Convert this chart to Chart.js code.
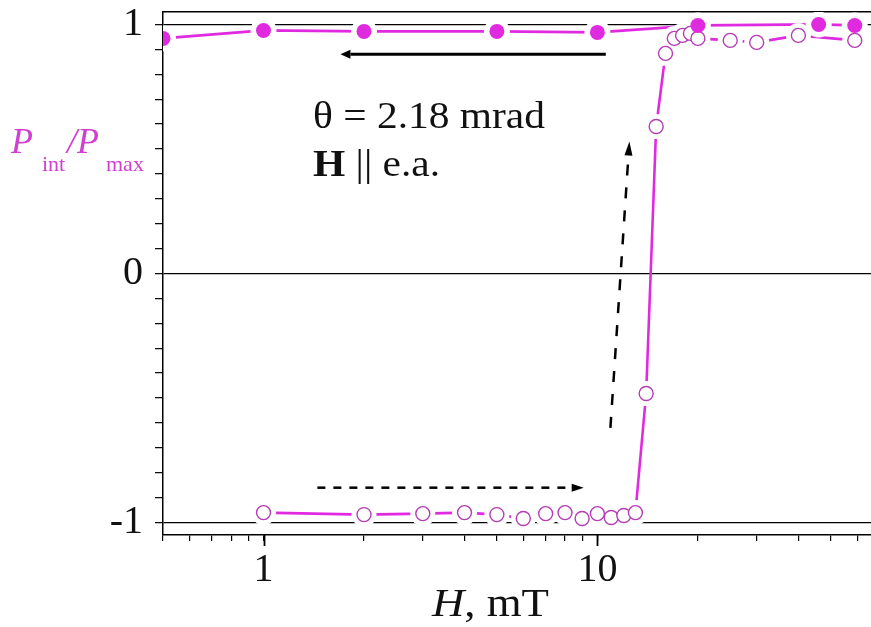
<!DOCTYPE html>
<html><head><meta charset="utf-8">
<script src="https://cdn.jsdelivr.net/npm/chart.js@4.4.1/dist/chart.umd.min.js"></script>
<style>html,body{margin:0;padding:0;background:#fff}#wrap{width:871px;height:627px}</style>
</head><body><div id="wrap"><canvas id="c" width="871" height="627"></canvas></div>
<script>
// ---- data ----
const fieldDown = [0.5, 1, 2, 5, 10, 20, 46, 59];
const pDown     = [0.944, 0.976, 0.972, 0.972, 0.968, 0.996, 1.0, 0.996];
const fieldUp = [1, 2, 3, 4, 5, 6, 7, 8, 9, 10, 11, 12, 13, 14, 15, 16, 17, 18, 19, 20, 25, 30, 40, 59];
const pUp     = [-0.96, -0.968, -0.964, -0.96, -0.968, -0.984, -0.964, -0.96, -0.984, -0.964, -0.98, -0.972, -0.96,
                 -0.482, 0.59, 0.884, 0.944, 0.956, 0.964, 0.944, 0.936, 0.928, 0.956, 0.936];
const xTicks  = [0.5, 0.6, 0.7, 0.8, 0.9, 1, 2, 3, 4, 5, 6, 7, 8, 9, 10, 20, 30, 40, 50, 60];
const xLabels = [1, 10];
const yTicks  = [-1, -0.9, -0.8, -0.7, -0.6, -0.5, -0.4, -0.3, -0.2, -0.1, 0, 0.1, 0.2, 0.3, 0.4, 0.5, 0.6, 0.7, 0.8, 0.9, 1];
const yLabels = [-1, 0, 1];
// arrows in data units [H, P]
const arrowDownFrom = [10.6, 0.88],  arrowDownTo = [1.7, 0.88];
const arrowUpHFrom  = [1.45, -0.86], arrowUpHTo  = [9.1, -0.86];
const arrowUpVFrom  = [10.94, -0.62], arrowUpVTo = [12.47, 0.53];
const noteLine1 = 'θ = 2.18 mrad';
const noteBold = 'H', noteRest = ' || e.a.';

const MAG = '#e02ae0', OPEN = '#b43cb4';
const pts = (xs, ys) => xs.map((x, i) => ({x, y: ys[i]}));
const FONT = '"Liberation Serif", "Times New Roman", serif';
const STRETCH = 1.12;

function arrow(ctx, x1, y1, x2, y2, dash, lw, hl, hw) {
  const a = Math.atan2(y2 - y1, x2 - x1);
  const bx = x2 - hl * Math.cos(a), by = y2 - hl * Math.sin(a);
  ctx.save();
  ctx.strokeStyle = '#000'; ctx.fillStyle = '#000'; ctx.lineWidth = lw;
  ctx.setLineDash(dash);
  ctx.beginPath(); ctx.moveTo(x1, y1); ctx.lineTo(bx, by); ctx.stroke();
  ctx.setLineDash([]);
  ctx.beginPath();
  ctx.moveTo(x2, y2);
  ctx.lineTo(bx + hw * Math.sin(a), by - hw * Math.cos(a));
  ctx.lineTo(bx - hw * Math.sin(a), by + hw * Math.cos(a));
  ctx.closePath(); ctx.fill();
  ctx.restore();
}

function stretched(ctx, x, y, parts) {
  ctx.save();
  ctx.translate(x, y);
  ctx.scale(STRETCH, 1);
  let cx = 0;
  for (const [font, text] of parts) {
    ctx.font = font;
    ctx.fillText(text, cx, 0);
    cx += ctx.measureText(text).width;
  }
  ctx.restore();
}

const overlay = {
  id: 'overlay',
  afterDatasetsDraw(chart) {
    const {ctx, scales: {x, y}} = chart;
    const P = p => [x.getPixelForValue(p[0]), y.getPixelForValue(p[1])];
    let a = P(arrowDownFrom), b = P(arrowDownTo);
    arrow(ctx, a[0], a[1], b[0], b[1], [], 3, 10, 4.5);
    a = P(arrowUpHFrom); b = P(arrowUpHTo);
    arrow(ctx, a[0], a[1], b[0], b[1], [8, 8], 2.5, 12, 4);
    a = P(arrowUpVFrom); b = P(arrowUpVTo);
    arrow(ctx, a[0], a[1], b[0], b[1], [11, 12], 2.5, 14, 4);
  },
  afterDraw(chart) {
    const {ctx, scales: {x}} = chart;
    ctx.save();
    // longer ticks for the labelled decades
    ctx.strokeStyle = '#000'; ctx.lineWidth = 1.8;
    for (const v of xLabels) {
      const px = Math.round(x.getPixelForValue(v)) + 0.5;
      ctx.beginPath(); ctx.moveTo(px, x.top); ctx.lineTo(px, x.top + 11); ctx.stroke();
    }
    ctx.fillStyle = '#111';
    ctx.textBaseline = 'alphabetic';
    stretched(ctx, 313, 128, [['37px ' + FONT, noteLine1]]);
    stretched(ctx, 313, 176, [['bold 37px ' + FONT, noteBold], ['37px ' + FONT, noteRest]]);
    // y axis title
    ctx.fillStyle = '#d040d0';
    ctx.font = 'italic 36px ' + FONT;
    ctx.fillText('P', 11, 153);
    ctx.font = '22px ' + FONT;
    ctx.fillText('int', 42, 171);
    ctx.font = 'italic 36px ' + FONT;
    ctx.fillText('/P', 67, 153);
    ctx.font = '22px ' + FONT;
    ctx.fillText('max', 106, 171);
    // x axis title
    ctx.fillStyle = '#111';
    stretched(ctx, 432, 616, [['italic 40px ' + FONT, 'H'], ['40px ' + FONT, ', mT']]);
    ctx.restore();
  }
};

const noPadX = s => { s.paddingLeft = 0; s.paddingRight = 0; };
const noPadY = s => { s.paddingTop = 0; s.paddingBottom = 0; };

new Chart(document.getElementById('c'), {
  type: 'scatter',
  data: {
    datasets: [
      {data: pts(fieldDown, pDown), showLine: false, pointRadius: 7.5, pointBackgroundColor: MAG, pointBorderColor: MAG, pointBorderWidth: 0},
      {data: pts(fieldUp, pUp), showLine: false, pointRadius: 7, pointBackgroundColor: '#fff', pointBorderColor: OPEN, pointBorderWidth: 1.4},
      {data: pts(fieldDown, pDown), showLine: false, pointRadius: 13, pointBackgroundColor: '#fff', pointBorderWidth: 0},
      {data: pts(fieldUp, pUp), showLine: false, pointRadius: 12.5, pointBackgroundColor: '#fff', pointBorderWidth: 0},
      {data: pts(fieldDown, pDown), showLine: true, pointRadius: 0, borderColor: MAG, borderWidth: 2.8},
      {data: pts(fieldUp, pUp), showLine: true, pointRadius: 0, borderColor: MAG, borderWidth: 2.6}
    ]
  },
  options: {
    responsive: false,
    animation: false,
    devicePixelRatio: 1,
    layout: {autoPadding: false, padding: {top: 12, right: 0, left: 0, bottom: 0}},
    plugins: {legend: {display: false}, tooltip: {enabled: false}},
    scales: {
      x: {
        type: 'logarithmic', position: 'bottom', min: 0.5, max: 66,
        afterBuildTicks: s => { s.ticks = xTicks.map(v => ({value: v, major: xLabels.includes(v)})); },
        afterFit: s => { s.height = 92; noPadX(s); },
        ticks: {
          autoSkip: false, maxRotation: 0, padding: 5, color: '#111',
          font: {family: FONT, size: 40},
          callback: v => xLabels.includes(v) ? String(v) : ''
        },
        grid: {drawOnChartArea: false, color: '#000', tickLength: 6, lineWidth: 1.2},
        border: {color: '#000', width: 1.5}
      },
      xTop: {
        type: 'logarithmic', position: 'top', min: 0.5, max: 66,
        ticks: {display: false}, grid: {display: false},
        afterFit: s => { s.height = 0; noPadX(s); },
        border: {display: true, color: '#000', width: 1.5}
      },
      y: {
        type: 'linear', min: -1.05, max: 1.05,
        afterBuildTicks: s => { s.ticks = yTicks.map(v => ({value: v})); },
        afterFit: s => { s.width = 163; noPadY(s); },
        ticks: {
          autoSkip: false, padding: 12, color: '#111',
          font: {family: FONT, size: 40},
          callback: v => yLabels.includes(v) ? String(v) : ''
        },
        grid: {
          drawOnChartArea: true, tickLength: 8, tickColor: '#000', tickWidth: 1.2,
          color: c => (c.tick && yLabels.includes(c.tick.value)) ? '#000' : 'rgba(0,0,0,0)',
          lineWidth: 1.3
        },
        border: {color: '#000', width: 1.5}
      }
    }
  },
  plugins: [overlay]
});
</script>
</body></html>
